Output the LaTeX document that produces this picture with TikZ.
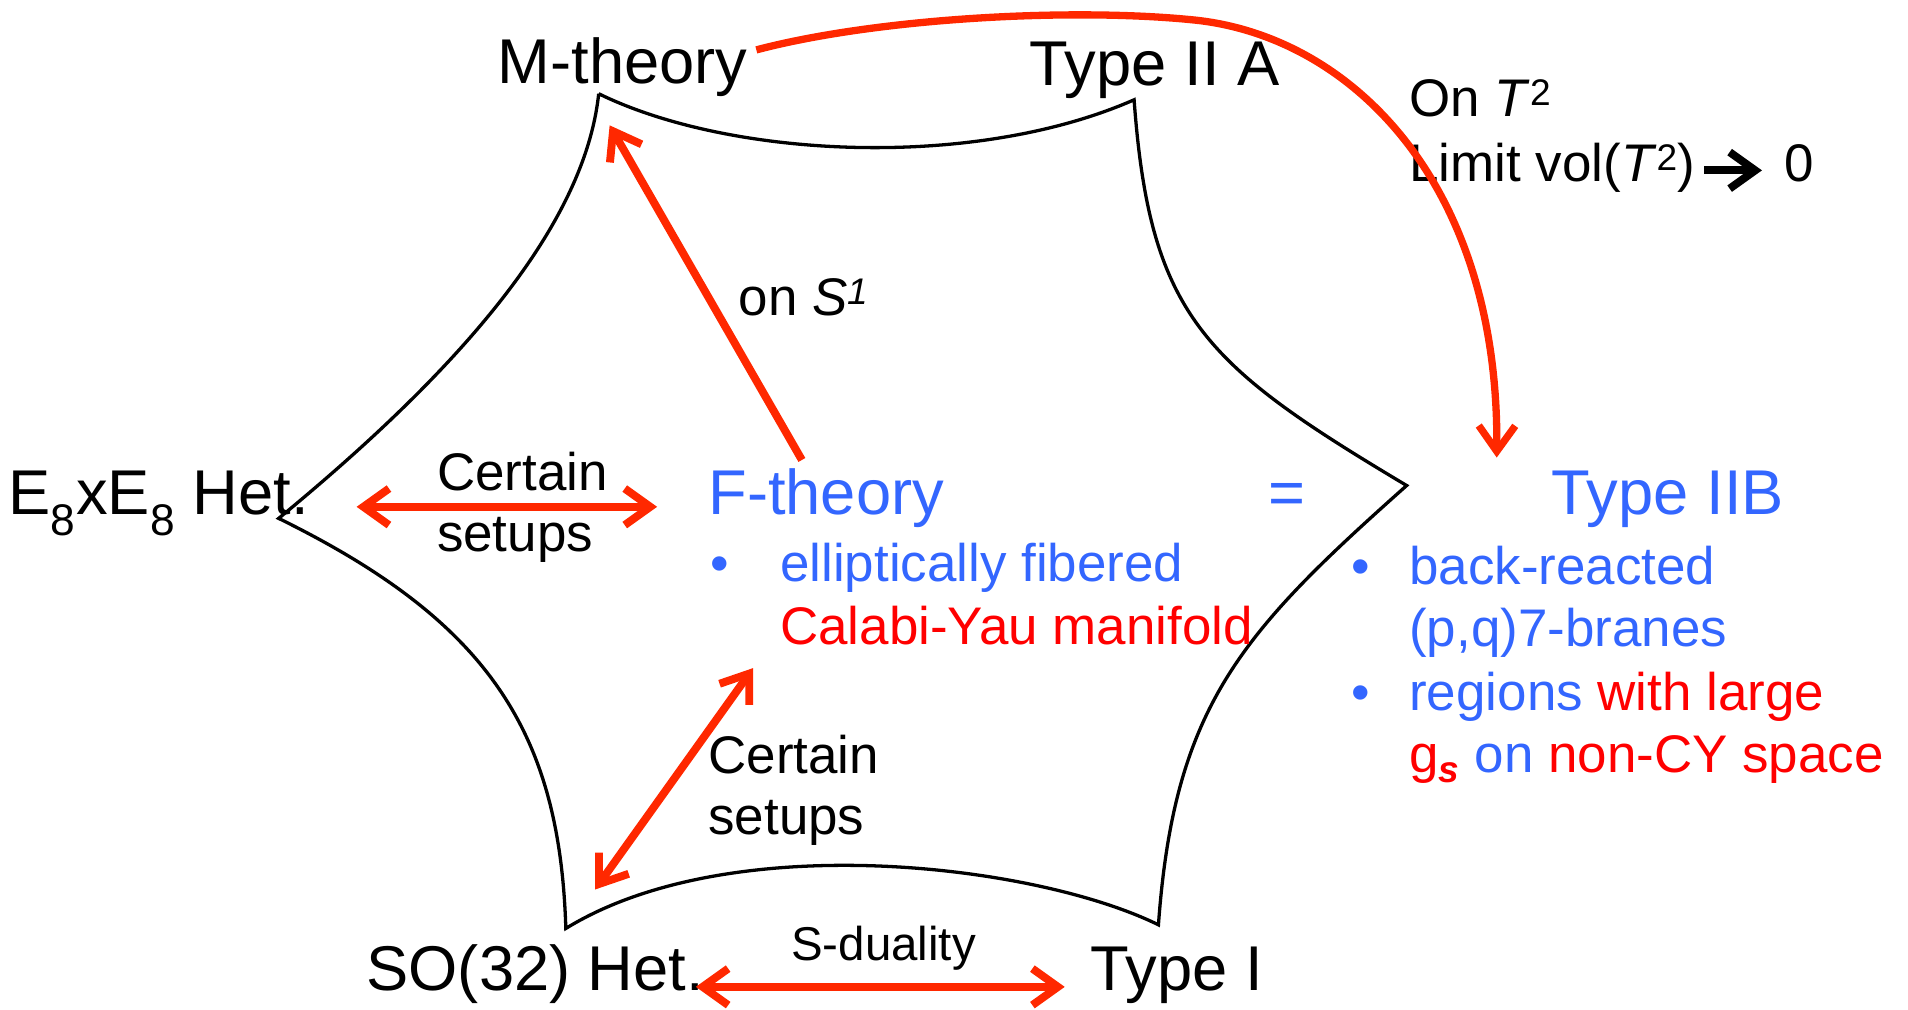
\documentclass[tikz,border=0pt]{standalone}
\usepackage{fontspec}
\setmainfont{Liberation Sans}
\usetikzlibrary{arrows.meta, calc}
\definecolor{theoryblue}{RGB}{51, 102, 255}
\definecolor{textred}{RGB}{255, 0, 0}
\definecolor{arrowred}{RGB}{255, 40, 0}
\tikzset{
  bigtxt/.style   = {inner sep=0pt, anchor=base west, font=\fontsize{52}{62}\selectfont},
  medtxt/.style   = {inner sep=0pt, anchor=base west, font=\fontsize{43.5}{52}\selectfont},
  smalltxt/.style = {inner sep=0pt, anchor=base west, font=\fontsize{39}{47}\selectfont},
  starline/.style = {draw=black, line width=2.7pt},
  dual/.style     = {<->, draw=arrowred, line width=6.5pt},
  reduce/.style   = {->, draw=arrowred, line width=6.5pt},
}
\begin{document}
\begin{tikzpicture}[
    x=1pt, y=-1pt,
    >={Straight Barb[length=21pt,width=30pt]},
    limitarrow/.style={->, draw=black, line width=6.5pt},
    curvearrow/.style={->, draw=arrowred, line width=6pt},
]
\useasboundingbox (0,0) rectangle (1568,830);

% ==================== star of dual theories ====================
\coordinate (vM) at (492,77);
\coordinate (vA) at (932,82);
\coordinate (vR) at (1156,399);
\coordinate (vI) at (952,760);
\coordinate (vS) at (465,763);
\coordinate (vE) at (229,426);

\draw[starline] (vM) .. controls (600,130) and (800,140) .. (vA)
                     .. controls (945,260) and (990,300) .. (vR)
                     .. controls (1020,520) and (965,580) .. (vI)
                     .. controls (850,710) and (600,680) .. (vS)
                     .. controls (460,600) and (400,510) .. (vE)
                     .. controls (370,310) and (480,190) .. (vM);

% ==================== corner theories ====================
\node[bigtxt] (mth) at (409,68.5) {M-theory};
\node[bigtxt] (t2a) at (846,70)   {Type II A};
\node[bigtxt] (e8)  at (7,423)    {E\textsubscript{8}xE\textsubscript{8} Het.};
\node[bigtxt] (so)  at (301,814)  {SO(32) Het.};
\node[bigtxt] (t1)  at (896,814)  {Type I};

% ==================== F-theory = Type IIB ====================
\node[bigtxt, text=theoryblue] (fth) at (582,423)  {F-theory};
\node[bigtxt, text=theoryblue] (eq)  at (1042,423) {=};
\node[bigtxt, text=theoryblue] (t2b) at (1275,423) {Type IIB};

\node[medtxt, text=theoryblue] (fb1) at (583.5,478) {•};
\node[medtxt, text=theoryblue] (fl1) at (641,478)   {elliptically fibered};
\node[medtxt, text=textred]    (fl2) at (641,530)   {Calabi-Yau manifold};

\node[medtxt, text=theoryblue] (rb1) at (1110.5,480)   {•};
\node[medtxt, text=theoryblue] (rl1) at (1158,480)     {back-reacted};
\node[medtxt, text=theoryblue] (rl2) at (1158,531)     {(p,q)7-branes};
\node[medtxt, text=theoryblue] (rb2) at (1110.5,583.5) {•};
\node[medtxt] (rl3) at (1158,583.5) {\textcolor{theoryblue}{regions} \textcolor{textred}{with large}};
\node[medtxt] (rl4) at (1158,635)   {\textcolor{textred}{g\textsubscript{\textbf{\textit{s}}}} \textcolor{theoryblue}{on} \textcolor{textred}{non-CY space}};

% ==================== arrow labels ====================
\node[medtxt] (ont)   at (1158,96)  {On \textit{T}\textsuperscript{2}};
\node[medtxt] (lim)   at (1158,149) {Limit vol(\textit{T}\textsuperscript{2})};
\node[medtxt] (zero)  at (1466,149) {0};
\node[medtxt] (ons)   at (607,259)  {on \textit{S}\textsuperscript{\textit{1}}};
\node[medtxt] (cert1) at (359,403)  {Certain};
\node[medtxt] (setu1) at (359,453.5){setups};
\node[medtxt] (cert2) at (582,636)  {Certain};
\node[medtxt] (setu2) at (582,686)  {setups};
\node[smalltxt] (sdual) at (650,789) {S-duality};

% ==================== arrows ====================
\draw[dual] ([shift={(39,-6.5)}]e8.base east) -- ([shift={(-42,-6.5)}]fth.base west);
\draw[reduce] ([shift={(77,-45)}]fth.base west) -- ([shift={(92,34.5)}]mth.base west);
\draw[dual] ([shift={(-22,19)}]fl2.base west) -- ([shift={(188,-83)}]so.base west);
\draw[dual] ([shift={(-7,-3)}]so.base east) -- ([shift={(-21,-3)}]t1.base west);

\draw[curvearrow] ([shift={(7,-27.5)}]mth.base east)
    .. controls (720,15) and (880,6) .. (982,16.5)
    .. controls (1110,30) and (1232,150) .. ([shift={(-45,-47)}]t2b.base west);

\draw[limitarrow] ([shift={(7,-9)}]lim.base east) -- ([shift={(-18,-9)}]zero.base west);

\end{tikzpicture}
\end{document}
